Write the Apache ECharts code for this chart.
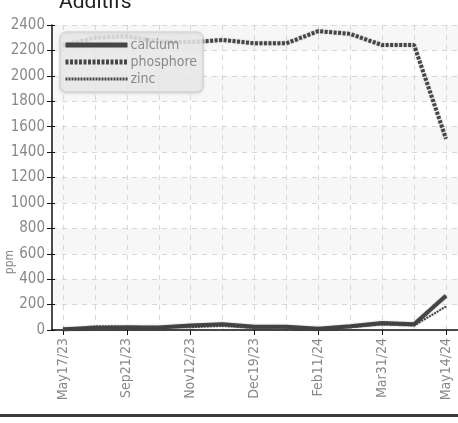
<!DOCTYPE html>
<html><head><meta charset="utf-8">
<script src="https://cdn.jsdelivr.net/npm/echarts@6/dist/echarts.min.js"></script>
<style>html,body{margin:0;padding:0;background:#fff}#c{width:458px;height:423px}</style>
</head><body><div id="c"></div>
<script>
const categories = ['May17/23','Jul19/23','Sep21/23','Oct17/23','Nov12/23','Nov30/23','Dec19/23','Jan15/24','Feb11/24','Mar04/24','Mar31/24','Apr21/24','May14/24'];
const calcium   = [5, 15, 20, 20, 35, 45, 25, 25, 10, 30, 55, 45, 270];
const phosphore = [2240, 2300, 2310, 2270, 2265, 2282, 2256, 2256, 2352, 2330, 2242, 2242, 1505];
const zinc      = [3, 30, 28, 20, 22, 32, 15, 18, 5, 22, 42, 35, 185];
const yTicks = [0, 200, 400, 600, 800, 1000, 1200, 1400, 1600, 1800, 2000, 2200, 2400];

const FONT = '"Liberation Sans Narrow","DejaVu Sans Condensed",sans-serif';
const LINE = '#454545';
const TOP = 25, BOTTOM = 423 - 330;

const chart = echarts.init(document.getElementById('c'), null, {renderer: 'canvas'});
chart.setOption({
  animation: false,
  backgroundColor: '#fff',
  title: {text: 'Additifs', left: 54, top: -13, textStyle: {fontFamily: 'Roboto, sans-serif', fontSize: 21, fontWeight: 'normal', color: '#222'}},
  legend: {
    orient: 'vertical', left: 60, top: 32, padding: [6, 6, 6, 3], itemGap: 3,
    itemWidth: 62, itemHeight: 14,
    backgroundColor: 'rgba(236,236,236,0.85)', borderColor: '#cfcfcf', borderWidth: 1, borderRadius: 6,
    shadowColor: 'rgba(0,0,0,0.15)', shadowBlur: 3, shadowOffsetY: 1,
    itemStyle: {opacity: 0, borderWidth: 0},
    textStyle: {fontFamily: FONT, fontSize: 14, color: '#8a8a8a', padding: [0, 0, 0, -2]},
    data: [
      {name: 'calcium', lineStyle: {width: 5}},
      {name: 'phosphore', lineStyle: {width: 5}},
      {name: 'zinc', lineStyle: {width: 3}}
    ]
  },
  grid: [
    {left: 52, right: 0, top: TOP, bottom: BOTTOM},
    {left: 63, right: 12, top: TOP, bottom: BOTTOM}
  ],
  xAxis: [
    {gridIndex: 0, type: 'value', min: 0, max: 1, axisLine: {show: true, lineStyle: {color: '#111', width: 1.5}}, axisTick: {show: false}, axisLabel: {show: false}, splitLine: {show: false}},
    {gridIndex: 1, type: 'category', data: categories, boundaryGap: false,
      axisLine: {show: false},
      axisTick: {show: true, interval: 1, length: 5, lineStyle: {color: '#111'}},
      axisLabel: {interval: 1, rotate: 90, fontFamily: FONT, fontSize: 14, color: '#888', margin: 8},
      splitLine: {show: true, interval: 0, lineStyle: {color: '#d8d8d8', type: [5, 5]}}}
  ],
  yAxis: [
    {gridIndex: 0, type: 'value', min: 0, max: 2400, interval: 200,
      axisLine: {show: true, lineStyle: {color: '#111', width: 1.5}},
      axisTick: {show: true, length: 5, lineStyle: {color: '#111'}},
      axisLabel: {fontFamily: FONT, fontSize: 15, color: '#888', margin: 7, formatter: v => String(v)},
      splitLine: {show: true, lineStyle: {color: '#d8d8d8', type: [5, 5]}},
      splitArea: {show: true, areaStyle: {color: ['rgba(255,255,255,0)', '#f7f7f7']}}},
    {gridIndex: 0, type: 'value', min: 0, max: 2400, interval: 200, position: 'left',
      axisLine: {show: false}, axisTick: {show: true, inside: true, length: 3, lineStyle: {color: '#111'}},
      axisLabel: {show: false}, splitLine: {show: false}},
    {gridIndex: 1, type: 'value', min: 0, max: 2400, interval: 200, show: false}
  ],
  graphic: [
    {type: 'text', left: 4, top: 250, rotation: Math.PI / 2, style: {text: 'ppm', fontFamily: FONT, fontSize: 12, fill: '#888'}},
    {type: 'rect', left: 0, top: 414, shape: {width: 458, height: 3}, style: {fill: '#3a3a3a'}}
  ],
  series: [
    {name: 'calcium', type: 'line', xAxisIndex: 1, yAxisIndex: 2, data: calcium, symbol: 'none', z: 3,
      lineStyle: {color: LINE, width: 4, shadowColor: 'rgba(0,0,0,0.25)', shadowBlur: 2}, itemStyle: {color: LINE}},
    {name: 'phosphore', type: 'line', xAxisIndex: 1, yAxisIndex: 2, data: phosphore, symbol: 'none', z: 3,
      lineStyle: {color: LINE, width: 4, type: [3, 1.5], shadowColor: 'rgba(0,0,0,0.25)', shadowBlur: 2}, itemStyle: {color: LINE}},
    {name: 'zinc', type: 'line', xAxisIndex: 1, yAxisIndex: 2, data: zinc, symbol: 'none', z: 3,
      lineStyle: {color: LINE, width: 2, type: [2, 1], shadowColor: 'rgba(0,0,0,0.2)', shadowBlur: 2}, itemStyle: {color: LINE}}
  ]
});
</script></body></html>
